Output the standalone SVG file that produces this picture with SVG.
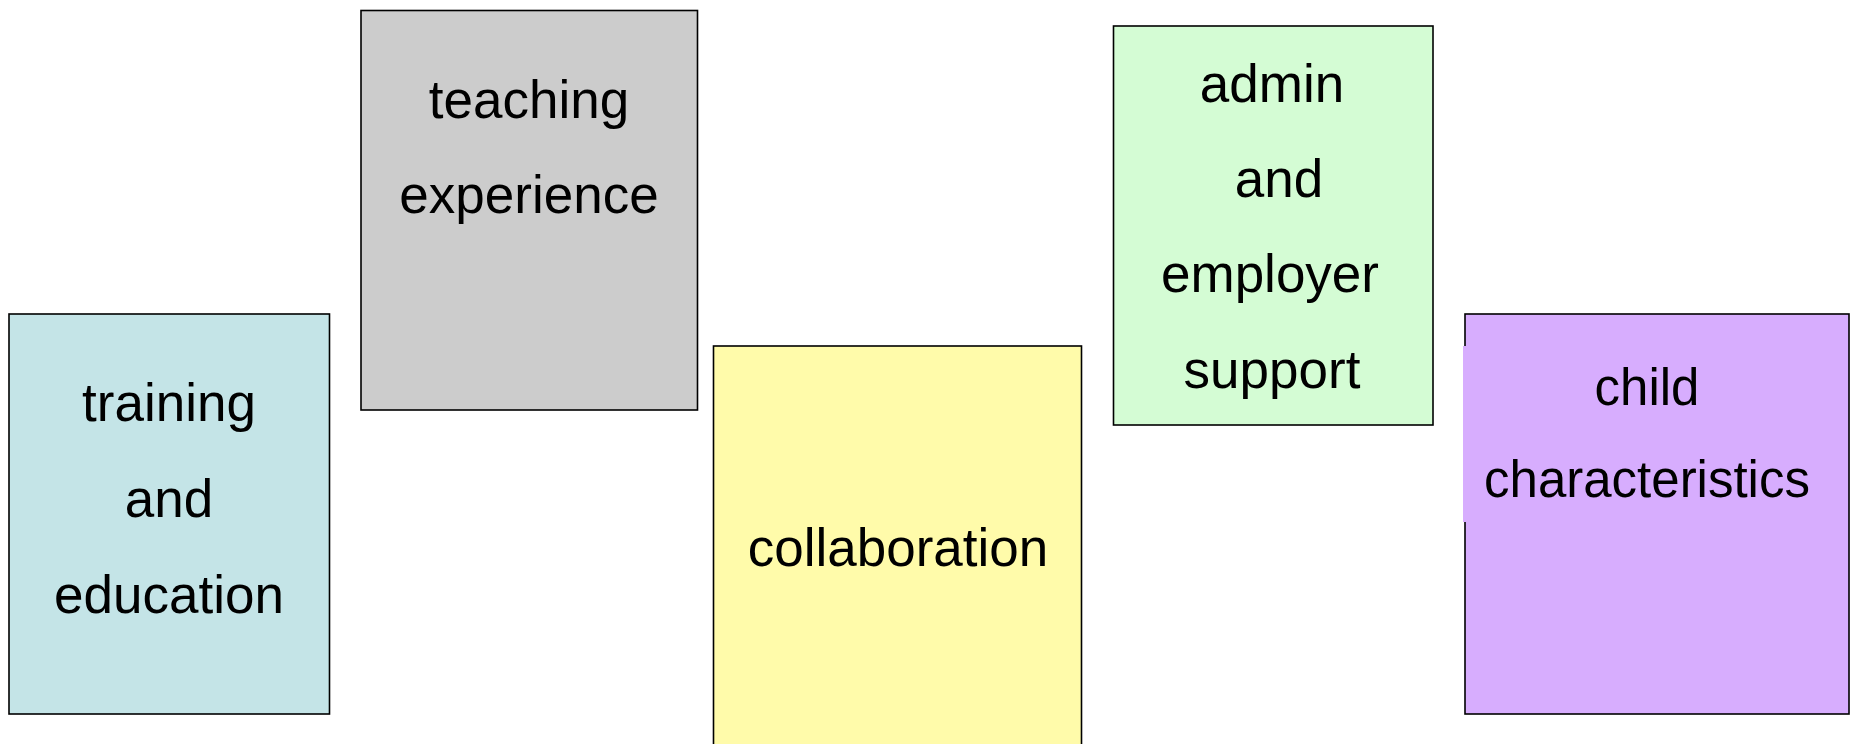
<svg xmlns="http://www.w3.org/2000/svg" width="1858" height="744" viewBox="0 0 1858 744">
<style>
.box{stroke:#000;stroke-width:1.6}
.t{font-family:"Liberation Sans",Arial,sans-serif;font-size:53px;fill:#000;text-anchor:middle}
.s{font-size:51px}
</style>
<rect width="1858" height="744" fill="#fff"/>
<g id="node-training">
<rect class="box" x="9" y="314" width="320.5" height="400" fill="#C4E4E7"/>
<text class="t" x="169" y="421">training</text>
<text class="t" x="169" y="517">and</text>
<text class="t" x="169" y="613">education</text>
</g>
<g id="node-teaching">
<rect class="box" x="361" y="10.5" width="336.5" height="399.5" fill="#CCCCCC"/>
<text class="t" x="529" y="118">teaching</text>
<text class="t" x="529" y="213">experience</text>
</g>
<g id="node-collaboration">
<rect class="box" x="713.5" y="346" width="368" height="410" fill="#FFFBAA"/>
<text class="t" x="898" y="566">collaboration</text>
</g>
<g id="node-admin">
<rect class="box" x="1113.5" y="26" width="319.5" height="399" fill="#D4FCD4"/>
<text class="t" x="1272" y="102">admin</text>
<text class="t" x="1279" y="197">and</text>
<text class="t" x="1270" y="292">employer</text>
<text class="t" x="1272" y="388">support</text>
</g>
<g id="node-child">
<rect class="box" x="1465" y="314" width="384" height="400" fill="#D7ADFE"/>
<rect x="1463" y="346" width="4" height="176" fill="#D7ADFE"/>
<text class="t s" x="1647" y="405">child</text>
<text class="t s" x="1647" y="497">characteristics</text>
</g>
<g id="connectors"></g>
</svg>
